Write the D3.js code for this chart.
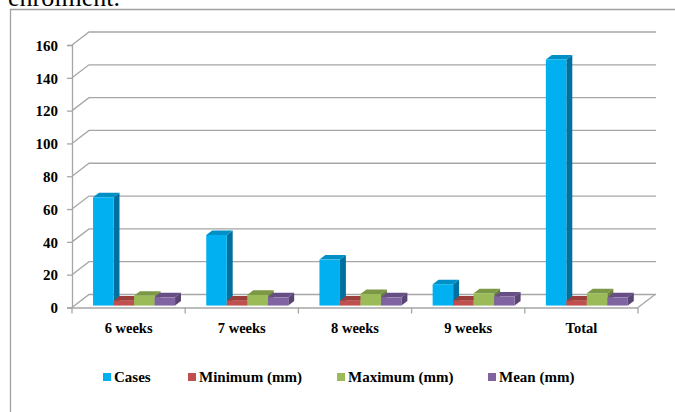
<!DOCTYPE html>
<html>
<head>
<meta charset="utf-8">
<script src="https://cdn.jsdelivr.net/npm/d3@7"></script>
<style>
  body { margin: 0; background: #fff; }
  svg text { font-family: "Liberation Serif", "Times New Roman", serif; font-weight: bold; fill: #000; }
</style>
</head>
<body>
<div id="chart"></div>
<script>
// data
var categories = ['6 weeks', '7 weeks', '8 weeks', '9 weeks', 'Total'];
var seriesNames = ['Cases', 'Minimum (mm)', 'Maximum (mm)', 'Mean (mm)'];
var cases = [66, 43, 28, 13, 150];
var minimum = [3, 3, 3, 3, 3];
var maximum = [6, 6.5, 7, 7.5, 7.5];
var mean = [5, 5, 5, 5.5, 5];
var yTicks = [0, 20, 40, 60, 80, 100, 120, 140, 160];

var colors = {
    'Cases':        { front: '#00b0f0', side: '#00709e', top: '#0090c6' },
    'Minimum (mm)': { front: '#c0504d', side: '#8a3533', top: '#9c3e3b' },
    'Maximum (mm)': { front: '#9bbb59', side: '#6a8239', top: '#7a9845' },
    'Mean (mm)':    { front: '#8064a2', side: '#5a4474', top: '#674f86' }
};

var width = 675, height = 412;
var DX = 17, DY = 13;     // depth of the 3d box
var gridColor = '#a6a6a6';

var svg = d3.select('#chart')
            .append('svg')
            .attr('width', width)
            .attr('height', height);

// cut-off text from the page above the figure
svg.append('text')
    .attr('x', 8)
    .attr('y', 6)
    .style('font-size', '26px')
    .style('font-weight', 'normal')
    .text('enrolment.');

// figure frame
svg.append('path')
    .attr('d', 'M10.5,412V9.5H675')
    .attr('fill', 'none')
    .attr('stroke', '#a0a0a0')
    .attr('stroke-width', 1.3);

var x = d3.scaleBand().domain(categories).range([72, 638]).paddingInner(0).paddingOuter(0);
var y = d3.scaleLinear().domain([0, 160]).range([307.5, 45]);
var xs = d3.scaleBand().domain(seriesNames).range([18.5, 100.5]);

// walls: back gridlines and the diagonals on the left side wall
var grid = svg.append('g');
yTicks.forEach(function (t) {
    grid.append('path')
        .attr('d', 'M72,' + y(t) + 'L' + (72 + DX) + ',' + (y(t) - DY) + 'H' + (639 + DX))
        .attr('fill', 'none')
        .attr('stroke', gridColor)
        .attr('stroke-width', 1.3);
});

// floor right edge
grid.append('path')
    .attr('d', 'M638,' + y(0) + 'L' + (638 + DX) + ',' + (y(0) - DY))
    .attr('fill', 'none')
    .attr('stroke', gridColor)
    .attr('stroke-width', 1.3);

// y axis
var yAxis = svg.append('g')
    .attr('transform', 'translate(72,0)')
    .call(d3.axisLeft(y).tickValues(yTicks).tickSize(5).tickPadding(9));
yAxis.selectAll('text').style('font-size', '15px').attr('dy', '0.35em');

// x axis
var xAxis = svg.append('g')
    .attr('transform', 'translate(0,' + y(0) + ')')
    .call(d3.axisBottom(x).tickSize(0).tickPadding(15));
xAxis.selectAll('text').style('font-size', '14.5px');
xAxis.selectAll('.tick-line2')
    .data(d3.range(categories.length + 1))
    .enter()
    .append('line')
    .attr('x1', function (i) { return 72 + i * x.bandwidth(); })
    .attr('x2', function (i) { return 72 + i * x.bandwidth(); })
    .attr('y1', 0)
    .attr('y2', 6)
    .attr('stroke', gridColor)
    .attr('stroke-width', 1.3);

svg.selectAll('.domain, .tick line').attr('stroke', gridColor).attr('stroke-width', 1.3);

// bars
var z0 = 0.15, dz = 0.35;
var rows = [];
categories.forEach(function (c, i) {
    [cases[i], minimum[i], maximum[i], mean[i]].forEach(function (v, j) {
        rows.push({ cat: c, s: seriesNames[j], v: v });
    });
});

var bars = svg.append('g');
rows.forEach(function (d) {
    var x0 = x(d.cat) + xs(d.s) + z0 * DX;
    var x1 = x0 + xs.bandwidth();
    var yb = y(0) - z0 * DY;
    var yt = y(d.v) - z0 * DY;
    var ox = dz * DX, oy = dz * DY;
    var col = colors[d.s];

    bars.append('polygon')
        .attr('points', [[x1, yb], [x1, yt], [x1 + ox, yt - oy], [x1 + ox, yb - oy]].join(' '))
        .attr('fill', col.side);
    bars.append('polygon')
        .attr('points', [[x0, yt], [x1, yt], [x1 + ox, yt - oy], [x0 + ox, yt - oy]].join(' '))
        .attr('fill', col.top);
    bars.append('rect')
        .attr('x', x0)
        .attr('y', yt)
        .attr('width', xs.bandwidth())
        .attr('height', yb - yt)
        .attr('fill', col.front);
});

// legend
var legendX = [103, 188, 337, 488];
var legend = svg.append('g')
    .selectAll('g')
    .data(seriesNames)
    .enter()
    .append('g')
    .attr('transform', function (d, i) { return 'translate(' + legendX[i] + ',377)'; });

legend.append('rect')
    .attr('x', 0)
    .attr('y', -4)
    .attr('width', 8)
    .attr('height', 8)
    .attr('fill', function (d) { return colors[d].front; });

legend.append('text')
    .attr('x', 11)
    .attr('dy', '0.35em')
    .style('font-size', '15px')
    .text(function (d) { return d; });
</script>
</body>
</html>
